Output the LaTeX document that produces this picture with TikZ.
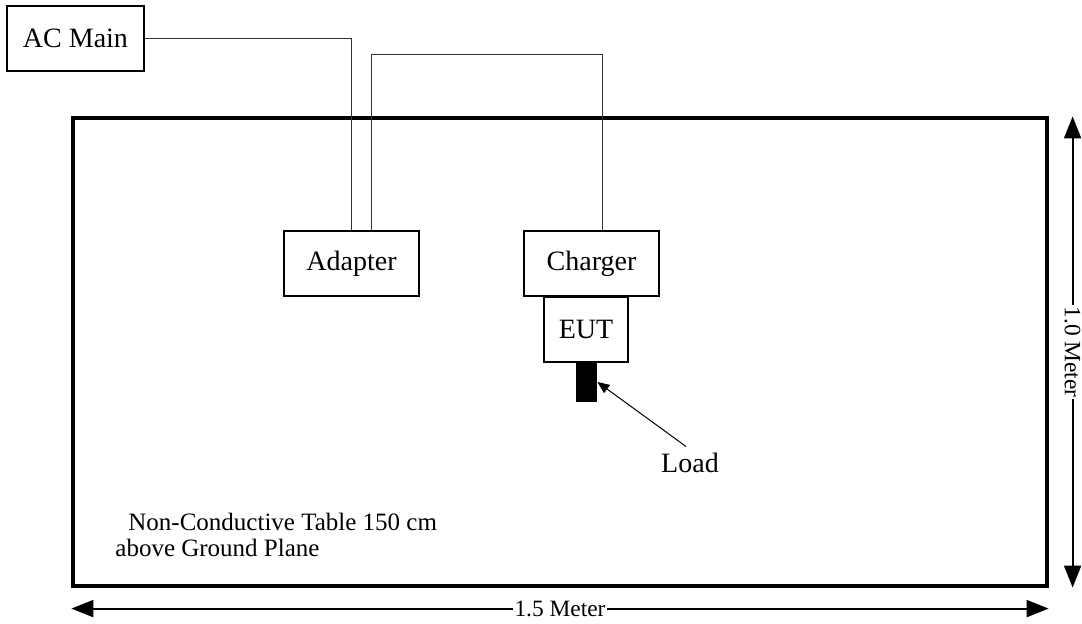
\documentclass[tikz,border=0pt]{standalone}
\usepackage{fontspec}
\setmainfont{Liberation Serif}
\usetikzlibrary{arrows.meta}

\begin{document}
\begin{tikzpicture}[x=0.5pt,y=-0.5pt,
  unit/.style={draw,line width=0.8pt,inner sep=0pt,font=\fontsize{14}{16}\selectfont},
  wire/.style={line width=0.5pt,black!80},
  dim/.style={line width=1pt,{Triangle[length=11pt,width=8.5pt]}-{Triangle[length=11pt,width=8.5pt]}},
  dimlabel/.style={fill=white,inner sep=1pt,font=\fontsize{11.7}{13}\selectfont}]
 \useasboundingbox (0,0) rectangle (1082,624);
 % table
 \node[draw,line width=1.6pt,minimum width=487pt,minimum height=234pt] (table) at (560,352) {};
 \node[anchor=base west,inner sep=0pt,font=\fontsize{12.5}{13}\selectfont] (tabletxta) at (128,531) {Non-Conductive Table 150 cm};
 \node[anchor=base west,inner sep=0pt,font=\fontsize{12.5}{13}\selectfont] (tabletxtb) at (115,557) {above Ground Plane};
 % units
 \node[unit,minimum width=68.5pt,minimum height=32.5pt] (acmain) at (75.5,38.5) {AC Main};
 \node[unit,minimum width=67.5pt,minimum height=32.5pt] (adapter) at (351.5,263.5) {Adapter};
 \node[unit,minimum width=67.5pt,minimum height=32.5pt] (charger) at (591.5,263.5) {Charger};
 \node[unit,minimum width=42pt,minimum height=32.5pt] (eut) at (586,329.5) {EUT};
 \node[fill=black,inner sep=0pt,minimum width=10.5pt,minimum height=20pt] (load) at (586.5,382) {};
 \node[anchor=base,font=\fontsize{14}{16}\selectfont] (loadlbl) at (690,473) {Load};
 \draw[line width=0.5pt,-{Triangle[length=6pt,width=5pt]}] ([xshift=-2pt]loadlbl.north) -- (load.east);
 % wires
 \coordinate (adin) at ([xshift=10pt]adapter.north);
 \coordinate (chin) at ([xshift=5.25pt]charger.north);
 \draw[wire] (acmain.east) -| (adapter.north);
 \draw[wire] (adin) -- ++(0,-176) -| (chin);
 % dimensions
 \coordinate (dimT) at ([xshift=12pt]table.north east);
 \coordinate (dimB) at ([xshift=12pt]table.south east);
 \coordinate (dimL) at ([yshift=-10.5pt]table.south west);
 \coordinate (dimR) at ([yshift=-10.5pt]table.south east);
 \draw[dim] (dimL) -- (dimR) node[dimlabel,midway] (widthlbl) {1.5 Meter};
 \draw[dim] (dimT) -- (dimB) node[dimlabel,midway,rotate=-90] (heightlbl) {1.0 Meter};
\end{tikzpicture}
\end{document}
